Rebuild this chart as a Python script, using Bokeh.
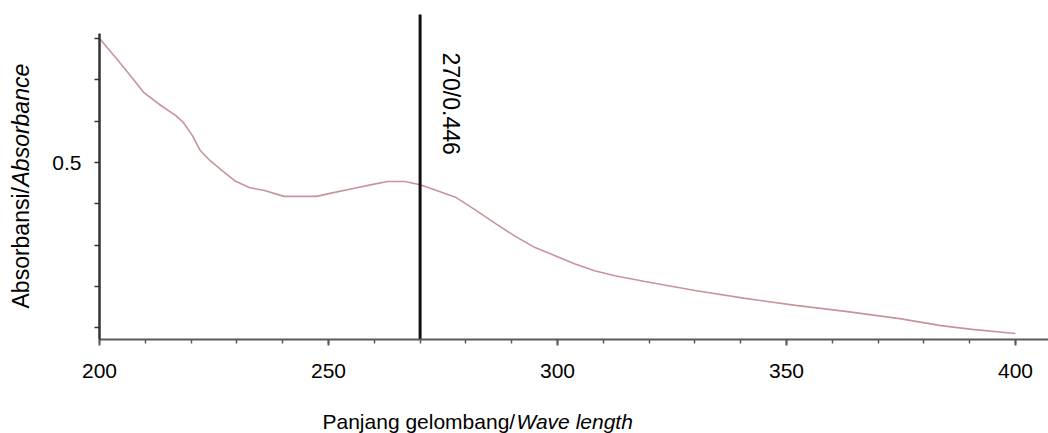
import math
from bokeh.plotting import figure
from bokeh.models import Label, SingleIntervalTicker, FixedTicker, Range1d
from bokeh.embed import file_html
from bokeh.resources import INLINE

# ---- data ----
wavelength = [200, 203.7, 206.9, 209.7, 213.4, 216.6, 218.3, 220.3, 222.0, 224.1,
              226.7, 229.5, 232.8, 236.0, 240.3, 243.5, 247.4, 251.1, 255.4, 259.7,
              262.9, 266.7, 270.0, 273.6, 277.9, 282.2, 286.5, 290.8, 295.1, 300.0,
              303.7, 308.1, 312.5, 319.1, 330.0, 341.0, 352.0, 363.3, 374.7, 383.7,
              390.5, 400.0]
absorbance = [0.800, 0.752, 0.708, 0.669, 0.638, 0.614, 0.597, 0.565, 0.529, 0.505,
              0.481, 0.456, 0.439, 0.432, 0.418, 0.418, 0.418, 0.427, 0.437, 0.447,
              0.454, 0.454, 0.446, 0.432, 0.415, 0.384, 0.352, 0.321, 0.294, 0.272,
              0.255, 0.238, 0.226, 0.212, 0.190, 0.171, 0.154, 0.139, 0.122, 0.105,
              0.096, 0.086]
peak_wavelength = 270
peak_absorbance = 0.446
y_major_ticks = [0.5]
y_minor_ticks = [0.1, 0.2, 0.3, 0.4, 0.6, 0.7, 0.8]
x_label_plain = "Panjang gelombang/"
x_label_italic = "Wave length"
y_label_plain = "Absorbansi/"
y_label_italic = "Absorbance"

# ---- layout (pixel geometry of the canvas) ----
W, H = 1048, 433
X_ORIGIN_PX, X_PPU = 99, 4.58      # x=200 at 99 px, 4.58 px per nm
Y_MID_PX, Y_PPU = 162, 413         # y=0.5 at 162 px, 413 px per unit
X_AXIS_START = 200
Y_AXIS_LEVEL = 0.5 - (339 - Y_MID_PX) / Y_PPU
Y_AXIS_TOP = 0.5 + (Y_MID_PX - 33) / Y_PPU
PEAK_LINE_TOP = 0.5 + (Y_MID_PX - 14) / Y_PPU

def dx(px):
    return X_AXIS_START + (px - X_ORIGIN_PX) / X_PPU

def dy(py):
    return 0.5 + (Y_MID_PX - py) / Y_PPU

X0, X1 = dx(0), dx(W)
Y0, Y1 = dy(H), dy(0)

FONT = "Liberation Sans"

p = figure(width=W, height=H, output_backend="svg", toolbar_location=None,
           x_range=Range1d(X0, X1), y_range=Range1d(Y0, Y1),
           min_border=0, min_border_left=0, min_border_right=0,
           min_border_top=0, min_border_bottom=0)
p.outline_line_color = None
p.grid.visible = False
p.background_fill_color = "white"
p.border_fill_color = "white"

# x axis (fixed at the bottom of the data area)
xa = p.xaxis[0]
xa.fixed_location = Y_AXIS_LEVEL
xa.bounds = (X_AXIS_START, X1)
xa.ticker = SingleIntervalTicker(interval=50, num_minor_ticks=5)
xa.axis_line_color = "#5a5a5a"
xa.axis_line_width = 2
xa.major_tick_line_color = "#5a5a5a"
xa.minor_tick_line_color = "#5a5a5a"
xa.major_tick_line_width = 2
xa.minor_tick_line_width = 1.5
xa.major_tick_out = 6
xa.major_tick_in = 0
xa.minor_tick_out = 4
xa.minor_tick_in = 0
xa.major_label_text_font = FONT
xa.major_label_text_font_size = "21px"
xa.major_label_text_color = "black"
xa.major_label_standoff = 18

# y axis (fixed at x=200)
ya = p.yaxis[0]
ya.fixed_location = X_AXIS_START
ya.bounds = (Y_AXIS_LEVEL, Y_AXIS_TOP)
ya.ticker = FixedTicker(ticks=y_major_ticks, minor_ticks=y_minor_ticks)
ya.axis_line_color = "#333333"
ya.axis_line_width = 2.5
ya.major_tick_line_color = "#333333"
ya.minor_tick_line_color = "#333333"
ya.major_tick_line_width = 1.5
ya.minor_tick_line_width = 1.5
ya.major_tick_out = 5
ya.major_tick_in = 0
ya.minor_tick_out = 5
ya.minor_tick_in = 0
ya.major_label_text_font = FONT
ya.major_label_text_font_size = "21px"
ya.major_label_text_color = "black"
ya.major_label_standoff = 13

# curve
p.line(wavelength, absorbance, line_color="#c8949a", line_width=1.6)

# peak marker line and label
p.segment(x0=[peak_wavelength], y0=[Y_AXIS_LEVEL], x1=[peak_wavelength], y1=[PEAK_LINE_TOP],
          line_color="#111111", line_width=3)
p.add_layout(Label(x=peak_wavelength, y=dy(52), x_offset=31,
                   text=f"{peak_wavelength}/{peak_absorbance}",
                   angle=-math.pi / 2, text_align="left", text_baseline="alphabetic",
                   text_font=FONT, text_font_size="23px", text_color="black"))

# x axis title (mixed style)
p.add_layout(Label(x=dx(322), y=dy(421), text=x_label_plain,
                   text_align="left", text_baseline="alphabetic",
                   text_font=FONT, text_font_size="21px", text_color="black"))
p.add_layout(Label(x=dx(322), y=dy(421), x_offset=194, text=x_label_italic,
                   text_align="left", text_baseline="alphabetic",
                   text_font=FONT, text_font_size="21px", text_font_style="italic",
                   text_color="black"))

# y axis title (mixed style)
p.add_layout(Label(x=dx(20), y=dy(308), text=y_label_plain, angle=math.pi / 2,
                   text_align="left", text_baseline="alphabetic",
                   text_font=FONT, text_font_size="23px", text_color="black"))
p.add_layout(Label(x=dx(20), y=dy(308), y_offset=122, text=y_label_italic,
                   angle=math.pi / 2, text_align="left", text_baseline="alphabetic",
                   text_font=FONT, text_font_size="23px", text_font_style="italic",
                   text_color="black"))

open("out.html", "w").write(file_html(p, INLINE))
